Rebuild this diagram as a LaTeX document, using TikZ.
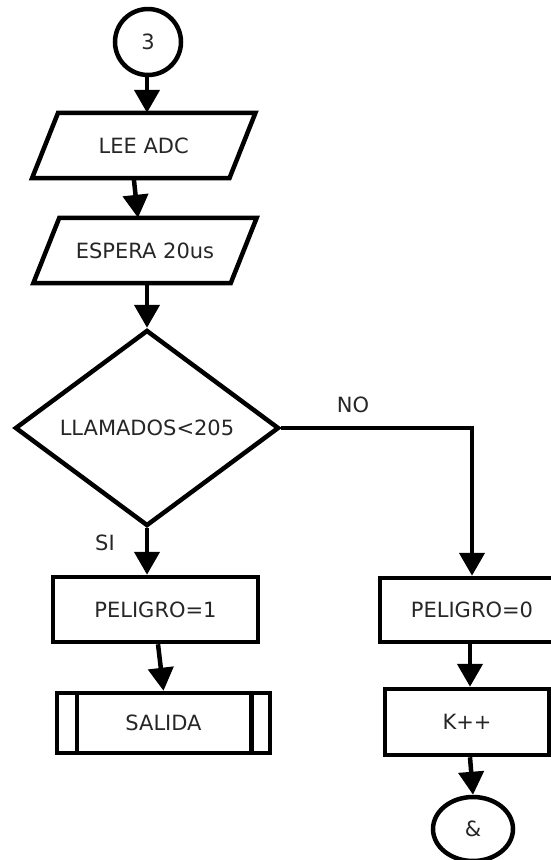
\documentclass[tikz,border=0pt]{standalone}
\usepackage{fontspec}
\setmainfont{DejaVu Sans}
\usetikzlibrary{arrows.meta,shapes.geometric}
\begin{document}
\begin{tikzpicture}[x=1pt,y=-1pt,
  every node/.style={font=\fontsize{21}{24}\selectfont, text=black!85},
  base/.style={line width=4.5pt, line join=miter},
  boxnode/.style={base, draw, rectangle, inner sep=0pt},
  ionode/.style={rectangle, inner sep=0pt, minimum width=197pt, minimum height=65pt},
  decnode/.style={base, draw, diamond, inner sep=0pt, minimum width=264pt, minimum height=196pt},
  conn/.style={base, draw, ellipse, inner sep=0pt},
  arr/.style={base, -{Triangle[length=23pt,width=25pt]}},
  lbl/.style={inner sep=0pt}
]
\clip (0,0) rectangle (551,860);
% start connector
\node[conn, minimum width=66pt, minimum height=66pt] (c3) at (148,42) {3};
% input/output boxes
\node[ionode] (lee) at (143.75,145.5) {LEE ADC};
\draw[base] ([xshift=13pt]lee.north west) -- ([xshift=13pt]lee.north east)
  -- ([xshift=-13pt]lee.south east) -- ([xshift=-13pt]lee.south west) -- cycle;
\node[ionode] (esp) at (145,250.5) {ESPERA 20us};
\draw[base] ([xshift=13pt]esp.north west) -- ([xshift=13pt]esp.north east)
  -- ([xshift=-13pt]esp.south east) -- ([xshift=-13pt]esp.south west) -- cycle;
% decision
\node[decnode] (dia) at (147,428) {};
\node[lbl] (diatext) at (dia.center) {LLAMADOS<205};
% processes
\node[boxnode, minimum width=205pt, minimum height=65pt] (p1) at (155.5,609.5) {PELIGRO=1};
\node[boxnode, minimum width=213pt, minimum height=60pt] (sal) at (163.5,723) {SALIDA};
\draw[base] ([xshift=22pt]sal.north west) -- ([xshift=22pt]sal.south west);
\draw[base] ([xshift=-21pt]sal.north east) -- ([xshift=-21pt]sal.south east);
\node[boxnode, minimum width=184pt, minimum height=64pt] (p0) at (472,610) {PELIGRO=0};
\node[boxnode, minimum width=164pt, minimum height=66pt] (k) at (467,722) {K++};
\node[conn, minimum width=80pt, minimum height=64pt] (amp) at (473,829) {\&};
% labels
\node[lbl] (no) at (353,405) {NO};
\node[lbl] (si) at (105,543) {SI};
% connectors
\draw[arr] (c3.south -| 147,0) -- (lee.north -| 147,0);
\draw[arr] ([xshift=-10pt]lee.south) -- ([xshift=-7pt]esp.north);
\draw[arr] (esp.south -| dia.north) -- (dia.north);
\draw[arr] (dia.south) -- (p1.north -| dia.south);
\draw[arr] ([xshift=2.5pt]p1.south) -- (sal.north);
\draw[arr] (dia.east) -| (p0.north);
\draw[arr] ([xshift=-2pt]p0.south) -- ([xshift=3pt]k.north);
\draw[arr] ([xshift=3pt]k.south) -- (amp.north);
\end{tikzpicture}
\end{document}
